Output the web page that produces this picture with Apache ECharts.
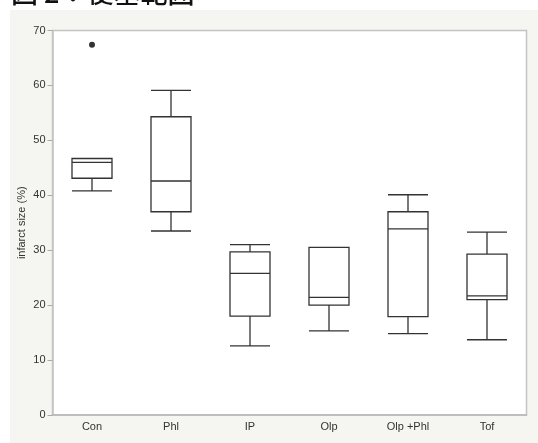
<!DOCTYPE html>
<html>
<head>
<meta charset="utf-8">
<script src="https://cdn.jsdelivr.net/npm/echarts@6/dist/echarts.min.js"></script>
<style>
html,body{margin:0;padding:0;background:#fff;}
#c{width:538px;height:443px;}
</style>
</head>
<body>
<div id="c"></div>
<script>
const titleText = '図 2：梗塞範囲';
const categories = ['Con', 'Phl', 'IP', 'Olp', 'Olp +Phl', 'Tof'];
// [min, Q1, median, Q3, max]
const mins    = [40.8, 33.5, 12.6, 15.3, 14.8, 13.7];
const q1s     = [43.1, 37.0, 18.0, 20.0, 17.9, 21.0];
const medians = [46.0, 42.6, 25.8, 21.4, 33.9, 21.7];
const q3s     = [46.7, 54.3, 29.7, 30.5, 37.0, 29.3];
const maxs    = [46.7, 59.1, 31.0, 30.5, 40.1, 33.3];
const outlierCats = ['Con'];
const outlierVals = [67.4];
const yTicks = [0, 10, 20, 30, 40, 50, 60, 70];
const yLabel = 'infarct size (%)';

const boxData = categories.map((c, i) => [mins[i], q1s[i], medians[i], q3s[i], maxs[i]]);
const outData = outlierCats.map((c, i) => [c, outlierVals[i]]);

const chart = echarts.init(document.getElementById('c'), null, {renderer: 'canvas'});
chart.setOption({
  animation: false,
  backgroundColor: '#ffffff',
  graphic: [
    {type: 'rect', z: -10, shape: {x: 10, y: 10, width: 540, height: 440}, style: {fill: '#f5f5f1'}},
    {type: 'text', z: 10, x: 11, y: -21, style: {text: titleText, font: '500 27px "Noto Sans CJK JP"', fill: '#111'}}
  ],
  grid: {
    left: 52.5, top: 30.5, right: 11.5, bottom: 28,
    show: true, backgroundColor: '#ffffff', borderColor: '#c4c4c4', borderWidth: 1.5
  },
  xAxis: {
    type: 'category', data: categories, boundaryGap: true,
    axisLine: {show: true, lineStyle: {color: '#b8b8b8', width: 1.5}},
    axisTick: {show: false},
    axisLabel: {color: '#333', fontSize: 11, fontFamily: 'Liberation Sans', margin: 6},
    splitLine: {show: false}
  },
  yAxis: {
    type: 'value', min: yTicks[0], max: yTicks[yTicks.length - 1], interval: 10,
    name: yLabel, nameLocation: 'middle', nameGap: 25, nameMoveOverlap: false,
    nameTextStyle: {color: '#333', fontSize: 11, fontFamily: 'Liberation Sans'},
    axisLine: {show: true, lineStyle: {color: '#c4c4c4', width: 1.5}},
    axisTick: {show: true, length: 5, lineStyle: {color: '#aaa'}},
    axisLabel: {color: '#333', fontSize: 11, fontFamily: 'Liberation Sans', margin: 7},
    splitLine: {show: false}
  },
  series: [
    {
      type: 'boxplot', data: boxData, boxWidth: [40, 40],
      itemStyle: {color: '#ffffff', borderColor: '#333', borderWidth: 1.3},
      emphasis: {disabled: true}
    },
    {
      type: 'scatter', data: outData, symbol: 'circle', symbolSize: 6,
      itemStyle: {color: '#000'}
    }
  ]
});
</script>
</body>
</html>
